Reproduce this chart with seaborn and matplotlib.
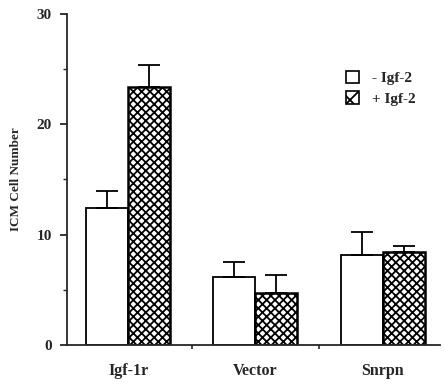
import matplotlib
matplotlib.use("Agg")
import matplotlib.pyplot as plt
import seaborn as sns
import pandas as pd
from matplotlib.patches import Patch
from matplotlib.ticker import MultipleLocator, FixedLocator

categories = ["Igf-1r", "Vector", "Snrpn"]
conditions = ["- Igf-2", "+ Igf-2"]
minus_vals = [12.4, 6.2, 8.2]
plus_vals = [23.4, 4.7, 8.4]
minus_err = [1.6, 1.3, 2.0]
plus_err = [2.0, 1.6, 0.6]
y_ticks = [0, 10, 20, 30]

rows = []
for c, m, p in zip(categories, minus_vals, plus_vals):
    rows.append({"cat": c, "cond": conditions[0], "val": m})
    rows.append({"cat": c, "cond": conditions[1], "val": p})
df = pd.DataFrame(rows)

sns.set_style("ticks")
plt.rcParams["font.family"] = ["Liberation Serif", "DejaVu Serif"]
plt.rcParams["font.weight"] = "bold"
plt.rcParams["hatch.linewidth"] = 1.3

fig = plt.figure(figsize=(4.45, 3.84), dpi=100)
ax = fig.add_axes([0.1506, 0.1016, 0.8384, 0.862])

sns.barplot(data=df, x="cat", y="val", hue="cond", order=categories,
            hue_order=conditions, palette=["white", "white"],
            edgecolor="black", linewidth=1.3, width=0.66, errorbar=None,
            ax=ax, legend=False, saturation=1)

n = len(categories)
bars = ax.patches[:2 * n]
for i, b in enumerate(bars):
    if i >= n:
        b.set_hatch("xxxx")
        b.set_linewidth(1.8)

# error bars (upward only)
errs = minus_err + plus_err
vals = minus_vals + plus_vals
for b, v, e in zip(bars, vals, errs):
    cx = b.get_x() + b.get_width() / 2
    ax.errorbar(cx, v, yerr=[[0], [e]], fmt="none", ecolor="black",
                elinewidth=1.3, capsize=8, capthick=1.3, zorder=3)

ax.set_xlim(-0.48, 2.45)
ax.set_ylim(0, 30)
ax.set_yticks(y_ticks)
ax.yaxis.set_minor_locator(MultipleLocator(5))
ax.xaxis.set_minor_locator(FixedLocator([0.5, 1.5]))
ax.tick_params(axis="x", which="major", length=0, pad=13, labelsize=11.5)
ax.tick_params(axis="x", which="minor", length=3, width=1.2, direction="out")
ax.tick_params(axis="y", which="major", length=5, width=1.3, labelsize=11, pad=6)
ax.tick_params(axis="y", which="minor", length=3, width=1.0)
for lab in ax.get_xticklabels() + ax.get_yticklabels():
    lab.set_fontweight("bold")

ax.set_xlabel("")
ax.set_ylabel("ICM Cell Number", fontsize=9.5, fontweight="bold", labelpad=10)
sns.despine(ax=ax)
for s in ["left", "bottom"]:
    ax.spines[s].set_linewidth(1.3)

handles = [Patch(facecolor="white", edgecolor="black", linewidth=1.2),
           Patch(facecolor="white", edgecolor="black", hatch="xx", linewidth=1.2)]
ax.legend(handles, conditions, loc="upper left", bbox_to_anchor=(0.71, 0.87),
          frameon=False, handlelength=0.9, handleheight=0.9,
          handletextpad=0.8, labelspacing=0.4,
          prop={"weight": "bold", "size": 11})

fig.savefig("out.png", dpi=100)
